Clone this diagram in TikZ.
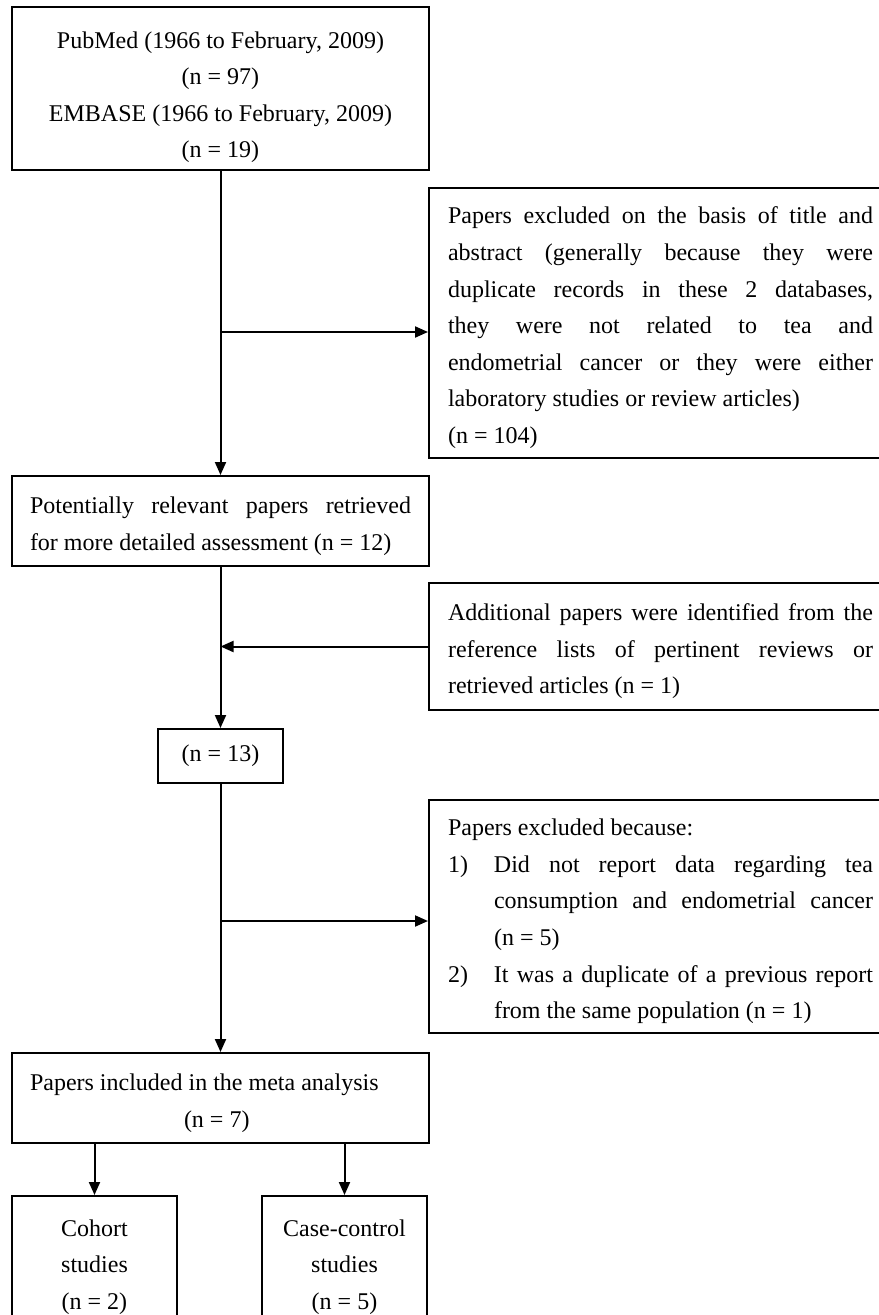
\documentclass[tikz,border=0pt]{standalone}
\usepackage{fontspec}
\setmainfont{Liberation Serif}
\usetikzlibrary{arrows.meta}
\tolerance=10000
\hbadness=10000

\begin{document}
\begin{tikzpicture}[x=0.5pt, y=-0.5pt, line width=1pt,
    >={Triangle[length=6.5pt, width=5.5pt]},
    font=\fontsize{12}{18.3}\selectfont,
    pbox/.style={draw, rectangle, inner ysep=0pt},
    vpad/.style={execute at begin node={\rule{0pt}{#1}}},
    vpad/.default=13.3pt,
    lbox/.style={pbox, vpad, text width=190.5pt, inner xsep=9pt, minimum height=45pt},
    rbox/.style={pbox, vpad, anchor=west, text width=212.5pt, inner xsep=9.5pt, align=justify},
    sbox/.style={pbox, vpad, text width=64.5pt, inner xsep=9pt, minimum height=66pt, align=flush center}]
    \useasboundingbox (0,0) rectangle (878,1315);

    % ボックス
    \node[lbox, vpad=17pt, minimum height=81.5pt, align=flush center] (A) at (220.5,88.5) {PubMed (1966 to February, 2009)\\(n = 97)\\EMBASE (1966 to February, 2009)\\(n = 19)};
    \node[rbox, minimum height=135pt] (B) at (428,323) {Papers excluded on the basis of title and\linebreak abstract (generally because they were\linebreak duplicate records in these 2 databases,\linebreak they were not related to tea and\linebreak endometrial cancer or they were either\linebreak laboratory studies or review articles)\\(n = 104)};
    \node[lbox, align=justify] (C) at (220.5,521) {Potentially relevant papers retrieved\linebreak for more detailed assessment (n = 12)};
    \node[rbox, minimum height=63.5pt] (D) at (428,646.5) {Additional papers were identified from the\linebreak reference lists of pertinent reviews or\linebreak retrieved articles (n = 1)};
    \node[pbox, minimum width=62.5pt, minimum height=27pt] (E) at (220.5,756) {(n = 13)};
    \node[rbox, minimum height=116.5pt] (F) at (428,916.5) {Papers excluded because:\par
        \hangindent=23pt\hangafter=1\noindent\makebox[23pt][l]{1)}Did not report data regarding tea\linebreak consumption and endometrial cancer\linebreak (n = 5)\par
        \hangindent=23pt\hangafter=1\noindent\makebox[23pt][l]{2)}It was a duplicate of a previous report\linebreak from the same population (n = 1)\par};
    \node[lbox, align=flush left] (G) at (220.5,1098) {Papers included in the meta analysis\\\hspace*{77pt}(n = 7)};
    \node[sbox] (H) at (94.5,1262) {Cohort\\studies\\(n = 2)};
    \node[sbox] (I) at (344.5,1262) {Case-control\\studies\\(n = 5)};

    \coordinate (P) at (220.5,332);
    \coordinate (Q) at (220.5,921);

    % 矢印
    \draw[->] (A.south) -- (C.north);
    \draw[->] (P) -- (P -| B.west);
    \draw[->] (D.west) -- (D.west -| C.south);
    \draw[->] (C.south) -- (E.north);
    \draw[->] (E.south) -- (G.north);
    \draw[->] (Q) -- (Q -| F.west);
    \draw[->] (G.south -| H.north) -- (H.north);
    \draw[->] (G.south -| I.north) -- (I.north);
\end{tikzpicture}
\end{document}
